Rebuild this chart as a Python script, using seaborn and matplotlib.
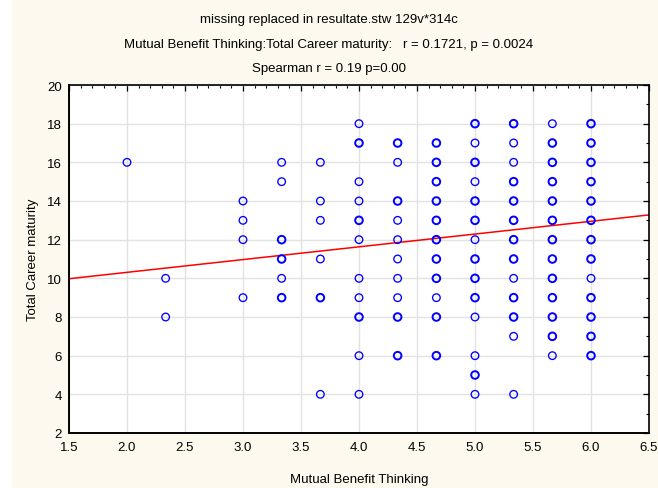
import numpy as np
import pandas as pd
import matplotlib
matplotlib.use("Agg")
import matplotlib.pyplot as plt
from matplotlib.ticker import MultipleLocator
from matplotlib.patches import Rectangle
import seaborn as sns

# ---- data ----
x_levels = [2.0, 2.333, 3.0, 3.333, 3.667, 4.0, 4.333, 4.667, 5.0, 5.333, 5.667, 6.0]
y_points = [
    [16],
    [10, 8],
    [14, 13, 12, 9],
    [16, 15, 12, 11, 10, 9],
    [16, 14, 13, 11, 9, 4],
    [18, 17, 15, 14, 13, 12, 10, 9, 8, 6, 4],
    [17, 16, 14, 13, 12, 11, 10, 9, 8, 6],
    [17, 16, 15, 14, 13, 12, 11, 10, 9, 8, 6],
    [18, 17, 16, 15, 14, 13, 12, 11, 10, 9, 8, 6, 5, 4],
    [18, 17, 16, 15, 14, 13, 12, 11, 10, 9, 8, 7, 4],
    [18, 17, 16, 15, 14, 13, 12, 11, 10, 9, 8, 7, 6],
    [18, 17, 16, 15, 14, 13, 12, 11, 10, 9, 8, 7, 6],
]
# points that are drawn heavier (several overlapping cases)
y_overlap = [
    [],
    [],
    [],
    [12, 11, 9],
    [9],
    [17, 13, 8],
    [17, 14, 8, 6],
    [17, 16, 15, 14, 13, 12, 11, 10, 8, 6],
    [18, 16, 14, 13, 11, 10, 9, 5],
    [18, 15, 14, 13, 12, 11, 9, 8],
    [17, 16, 15, 14, 13, 12, 11, 10, 9, 8, 7],
    [18, 17, 16, 15, 14, 13, 12, 11, 9, 8, 7, 6],
]
reg_intercept = 8.99
reg_slope = 0.66

title_lines = [
    "missing replaced in resultate.stw 129v*314c",
    "Mutual Benefit Thinking:Total Career maturity:   r = 0.1721, p = 0.0024",
    "Spearman r = 0.19 p=0.00",
]
x_label = "Mutual Benefit Thinking"
y_label = "Total Career maturity"

rows = []
for xv, ys, bs in zip(x_levels, y_points, y_overlap):
    for yv in ys:
        rows.append({"x": xv, "y": yv, "multi": yv in bs})
df = pd.DataFrame(rows)

# ---- figure ----
sns.set_theme(style="white")
plt.rcParams["font.family"] = ["Liberation Sans", "DejaVu Sans"]

bg = "#FEF9EE"
fig = plt.figure(figsize=(6.58, 4.89), dpi=100, facecolor=bg)
fig.patches.append(Rectangle((0, 0), 12 / 658, 1, transform=fig.transFigure,
                             facecolor="white", edgecolor="none", zorder=0))
ax = fig.add_axes([69 / 658, 1 - 434 / 489, 580 / 658, 348 / 489])
ax.set_facecolor("white")

ax.set_xlim(1.5, 6.5)
ax.set_ylim(2, 20)
ax.xaxis.set_major_locator(MultipleLocator(0.5))
ax.xaxis.set_minor_locator(MultipleLocator(0.1))
ax.yaxis.set_major_locator(MultipleLocator(2))
ax.yaxis.set_minor_locator(MultipleLocator(1))
ax.grid(True, which="major", color="#E2E2E2", linewidth=1.0)
ax.set_axisbelow(True)

# regression line over the full x range
xl = np.array(ax.get_xlim())
ax.plot(xl, reg_intercept + reg_slope * xl, color="#FF0000", linewidth=1.1, zorder=2)

sns.scatterplot(data=df[~df["multi"]], x="x", y="y", ax=ax, marker="o",
                facecolors="none", edgecolor="#0000FF", linewidth=0.95, s=30,
                legend=False, zorder=3)
sns.scatterplot(data=df[df["multi"]], x="x", y="y", ax=ax, marker="o",
                facecolors="none", edgecolor="#0000FF", linewidth=1.4, s=30,
                legend=False, zorder=3)

ax.set_xlim(1.5, 6.5)
ax.set_ylim(2, 20)
ax.xaxis.set_major_formatter(matplotlib.ticker.FormatStrFormatter("%.1f"))
ax.tick_params(which="both", direction="in", top=True, right=True,
               labeltop=False, labelright=False, colors="black",
               labelsize=9.5)
ax.tick_params(axis="x", which="major", pad=6)
ax.tick_params(axis="y", which="major", pad=5)
ax.tick_params(which="major", length=4, width=0.9)
ax.tick_params(which="minor", length=2, width=0.8)
for side, sp in ax.spines.items():
    sp.set_visible(True)
    sp.set_color("black")
    sp.set_linewidth(1.4 if side in ("left", "bottom") else 1.2)

ax.set_xlabel(x_label, fontsize=9.5, labelpad=14, color="black")
ax.set_ylabel(y_label, fontsize=9.5, labelpad=6, color="black")

for txt, yy in zip(title_lines, [20, 45, 69]):
    fig.text(0.5, 1 - yy / 489, txt, ha="center", va="center", fontsize=9.5,
             color="black")

fig.savefig("out.png", dpi=100, facecolor=bg)
